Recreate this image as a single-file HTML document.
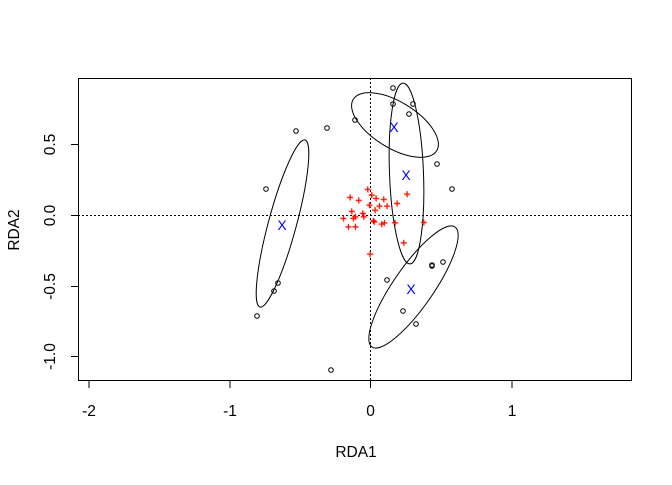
<!DOCTYPE html>
<html><head><meta charset="utf-8"><style>
body{margin:0;background:#fff}
svg text{font-family:"Liberation Sans",Arial,sans-serif;font-size:15.5px;fill:#000}
</style></head><body>
<svg width="672" height="480" viewBox="0 0 672 480" xmlns="http://www.w3.org/2000/svg" xmlns:xlink="http://www.w3.org/1999/xlink">
<defs>
<path id="pp" d="M364.7 189.3h6M367.7 186.3v6 M368.7 195h6M371.7 192v6 M373 198.3h6M376 195.3v6 M380.7 199.3h6M383.7 196.3v6 M404 194h6M407 191v6 M347 197.3h6M350 194.3v6 M355.7 200.3h6M358.7 197.3v6 M366.3 205h6M369.3 202v6 M376.3 206h6M379.3 203v6 M384 206h6M387 203v6 M394 203.3h6M397 200.3v6 M372 210h6M375 207v6 M348.7 211.3h6M351.7 208.3v6 M359.7 213.3h6M362.7 210.3v6 M360.7 216.7h6M363.7 213.7v6 M340.3 218.3h6M343.3 215.3v6 M350.3 218.3h6M353.3 215.3v6 M352.3 216.7h6M355.3 213.7v6 M370.3 220.7h6M373.3 217.7v6 M371.3 221.7h6M374.3 218.7v6 M381.3 222.7h6M384.3 219.7v6 M378.7 224h6M381.7 221v6 M392 222.7h6M395 219.7v6 M420.7 222.3h6M423.7 219.3v6 M345.3 226.7h6M348.3 223.7v6 M352.3 226.7h6M355.3 223.7v6 M400.7 242.7h6M403.7 239.7v6 M367 254h6M370 251v6"/>
</defs>
<rect x="0" y="0" width="672" height="480" fill="#fff"/>
<g stroke="#000" stroke-width="1" fill="none">
<rect x="78.5" y="78.5" width="553" height="302"/>
<line x1="78" y1="215.5" x2="631" y2="215.5" stroke-dasharray="2,2"/>
<line x1="370.5" y1="78" x2="370.5" y2="381" stroke-dasharray="2,2"/>
<line x1="89" y1="381" x2="89" y2="388"/><line x1="230" y1="381" x2="230" y2="388"/>
<line x1="370.5" y1="381" x2="370.5" y2="388"/><line x1="512" y1="381" x2="512" y2="388"/>
<line x1="71" y1="144.5" x2="78" y2="144.5"/><line x1="71" y1="215.5" x2="78" y2="215.5"/>
<line x1="71" y1="286.5" x2="78" y2="286.5"/><line x1="71" y1="356.5" x2="78" y2="356.5"/>
<ellipse cx="282.5" cy="223.5" rx="86.5" ry="14" transform="rotate(-74.9 282.5 223.5)"/>
<ellipse cx="395" cy="125" rx="49" ry="23" transform="rotate(31.7 395 125)"/>
<ellipse cx="406.5" cy="173.5" rx="90.5" ry="17" transform="rotate(87.8 406.5 173.5)"/>
<ellipse cx="413.5" cy="287" rx="73" ry="20" transform="rotate(-55.3 413.5 287)"/>
</g>
<g stroke="#000" stroke-width="1" fill="none">
<circle cx="296" cy="131" r="2.3"/><circle cx="266" cy="189" r="2.3"/><circle cx="278" cy="283" r="2.3"/>
<circle cx="274" cy="291" r="2.3"/><circle cx="257" cy="316" r="2.3"/><circle cx="327" cy="128" r="2.3"/>
<circle cx="355" cy="120" r="2.3"/><circle cx="331" cy="370" r="2.3"/><circle cx="393" cy="88" r="2.3"/>
<circle cx="393" cy="104" r="2.3"/><circle cx="413" cy="104" r="2.3"/><circle cx="409" cy="114" r="2.3"/>
<circle cx="437" cy="164" r="2.3"/><circle cx="452" cy="189" r="2.3"/><circle cx="432" cy="266" r="2.3"/>
<circle cx="443" cy="262" r="2.3"/><circle cx="432" cy="265" r="2.3"/><circle cx="387" cy="280" r="2.3"/>
<circle cx="403" cy="311" r="2.3"/><circle cx="416" cy="324" r="2.3"/>
</g>
<g stroke="#ff9a66" stroke-width="1" fill="none"><use xlink:href="#pp" href="#pp" transform="translate(0.5 0.7)"/></g>
<g stroke="#ff0000" stroke-width="1" fill="none"><use xlink:href="#pp" href="#pp"/></g>
<g>
<text x="282" y="230" text-anchor="middle" style="fill:#0000ff;font-size:14px">X</text>
<text x="394" y="132" text-anchor="middle" style="fill:#0000ff;font-size:14px">X</text>
<text x="406" y="180" text-anchor="middle" style="fill:#0000ff;font-size:14px">X</text>
<text x="411" y="294" text-anchor="middle" style="fill:#0000ff;font-size:14px">X</text>
</g>
<text x="89" y="416" text-anchor="middle">-2</text>
<text x="230" y="416" text-anchor="middle">-1</text>
<text x="370.5" y="416" text-anchor="middle">0</text>
<text x="512" y="416" text-anchor="middle">1</text>
<g text-anchor="middle">
<text transform="translate(55 144.5) rotate(-90)">0.5</text>
<text transform="translate(55 215.5) rotate(-90)">0.0</text>
<text transform="translate(55 286.5) rotate(-90)">-0.5</text>
<text transform="translate(55 356.5) rotate(-90)">-1.0</text>
<text transform="translate(19 230) rotate(-90)">RDA2</text>
</g>
<text x="356" y="457" text-anchor="middle">RDA1</text>
</svg>
</body></html>
